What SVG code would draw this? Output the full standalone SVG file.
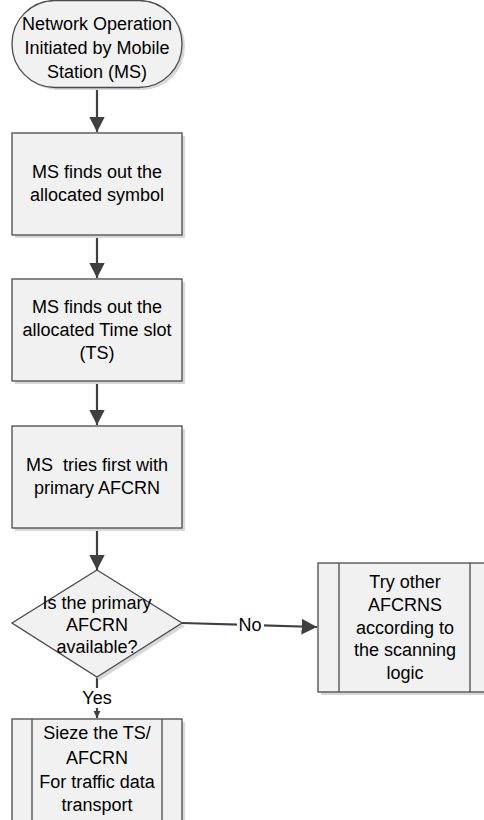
<svg xmlns="http://www.w3.org/2000/svg" width="484" height="820" viewBox="0 0 484 820">
<style>
.shape{fill:#f1f1f1;stroke:#4a4a4a;stroke-width:1.3}
.shadow{fill:#d8d8d8;stroke:none}
.conn{stroke:#404040;stroke-width:2.2;fill:none}
text{font-family:"Liberation Sans",Arial,sans-serif;font-size:18px;fill:#000;text-anchor:middle}
</style>
<defs>
<marker id="ah" markerWidth="8" markerHeight="8" refX="7" refY="4" orient="auto" markerUnits="strokeWidth">
<path d="M0,0.4 L7,4 L0,7.6 z" fill="#404040"/>
</marker>
<marker id="ahs" markerWidth="8" markerHeight="8" refX="7" refY="4" orient="auto" markerUnits="userSpaceOnUse">
<path d="M0,0.5 L7,4 L0,7.5 z" fill="#404040"/>
</marker>
</defs>
<g id="connectors">
<line class="conn" x1="97" y1="88" x2="97" y2="132" marker-end="url(#ah)"/>
<line class="conn" x1="97" y1="235" x2="97" y2="278" marker-end="url(#ah)"/>
<line class="conn" x1="97" y1="381" x2="97" y2="425" marker-end="url(#ah)"/>
<line class="conn" x1="97" y1="528" x2="97" y2="570" marker-end="url(#ah)"/>
<polyline class="conn" points="182,623 317,627" marker-end="url(#ah)"/>
<line class="conn" x1="97" y1="677" x2="97" y2="688"/>
<line class="conn" x1="97" y1="708" x2="97" y2="718" marker-end="url(#ahs)"/>
<rect x="237" y="614" width="27" height="22" fill="#fff"/>
<text x="250" y="631">No</text>
<text x="97" y="704">Yes</text>
</g>
<g id="start">
<rect class="shadow" x="15" y="3" width="170" height="87" rx="43"/>
<rect class="shape" x="12" y="0.5" width="170" height="87" rx="43"/>
<text x="97" y="30">Network Operation</text>
<text x="97" y="54">Initiated by Mobile</text>
<text x="97" y="78">Station (MS)</text>
</g>
<g id="box1">
<rect class="shadow" x="15" y="136" width="170" height="102"/>
<rect class="shape" x="12" y="133" width="170" height="102"/>
<text x="97" y="178">MS finds out the</text>
<text x="97" y="201">allocated symbol</text>
</g>
<g id="box2">
<rect class="shadow" x="15" y="282" width="170" height="102"/>
<rect class="shape" x="12" y="279" width="170" height="102"/>
<text x="97" y="313">MS finds out the</text>
<text x="97" y="336">allocated Time slot</text>
<text x="97" y="359">(TS)</text>
</g>
<g id="box3">
<rect class="shadow" x="15" y="429" width="170" height="102"/>
<rect class="shape" x="12" y="426" width="170" height="102"/>
<text x="97" y="471" xml:space="preserve">MS  tries first with</text>
<text x="97" y="494">primary AFCRN</text>
</g>
<g id="decision">
<polygon class="shadow" points="100,573 185,626 100,680 15,626"/>
<polygon class="shape" points="97,570 182,623 97,677 12,623"/>
<text x="97" y="609">Is the primary</text>
<text x="97" y="631">AFCRN</text>
<text x="97" y="653">available?</text>
</g>
<g id="other">
<rect class="shadow" x="321" y="566" width="170" height="129"/>
<rect class="shape" x="318" y="563" width="170" height="129"/>
<line class="shape" x1="339" y1="563" x2="339" y2="692"/>
<line class="shape" x1="470" y1="563" x2="470" y2="692"/>
<text x="405" y="588">Try other</text>
<text x="405" y="611">AFCRNS</text>
<text x="405" y="634">according to</text>
<text x="405" y="656">the scanning</text>
<text x="405" y="679">logic</text>
</g>
<g id="seize">
<rect class="shadow" x="15" y="722" width="170" height="110"/>
<rect class="shape" x="12" y="719" width="170" height="110"/>
<line class="shape" x1="32" y1="719" x2="32" y2="829"/>
<line class="shape" x1="162" y1="719" x2="162" y2="829"/>
<text x="97" y="739">Sieze the TS/</text>
<text x="97" y="764">AFCRN</text>
<text x="97" y="788">For traffic data</text>
<text x="97" y="811">transport</text>
</g>
</svg>
